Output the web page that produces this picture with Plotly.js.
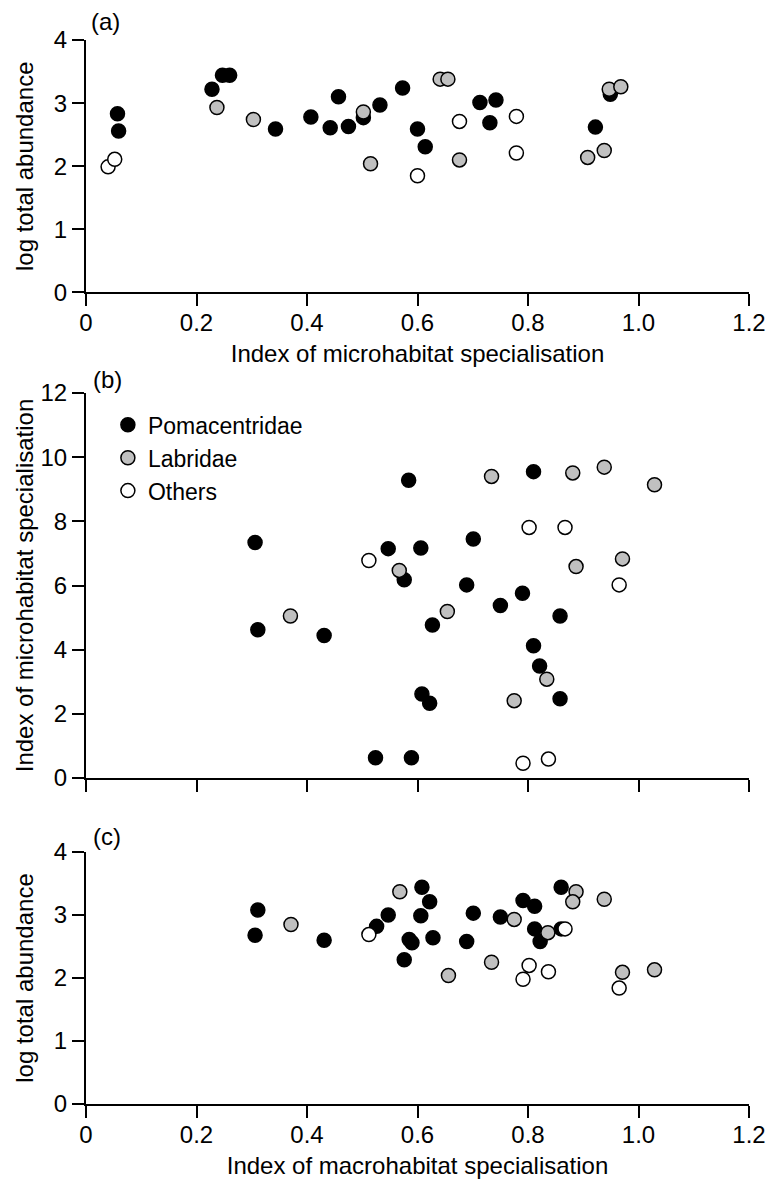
<!DOCTYPE html>
<html><head><meta charset="utf-8">
<script src="https://cdn.plot.ly/plotly-3.0.1.min.js"></script>
<style>html,body{margin:0;padding:0;background:#fff}#chart{width:767px;height:1182px}</style>
</head><body><div id="chart"></div>
<script>
// ---- Panel (a): index of microhabitat specialisation vs log total abundance
const aPomaX = [0.057,0.059,0.228,0.247,0.260,0.343,0.407,0.442,0.457,0.475,0.502,0.532,0.573,0.600,0.614,0.713,0.742,0.731,0.922,0.949];
const aPomaY = [2.83,2.56,3.22,3.44,3.44,2.59,2.78,2.61,3.10,2.63,2.77,2.97,3.24,2.59,2.31,3.01,3.05,2.69,2.62,3.14];
const aLabrX = [0.237,0.303,0.502,0.515,0.641,0.655,0.676,0.908,0.938,0.947,0.968];
const aLabrY = [2.93,2.74,2.86,2.04,3.38,3.38,2.10,2.14,2.25,3.22,3.26];
const aOthX  = [0.040,0.052,0.600,0.676,0.779,0.779];
const aOthY  = [1.99,2.11,1.85,2.71,2.79,2.21];

// ---- Panel (b): macrohabitat specialisation vs microhabitat specialisation
const bPomaX = [0.306,0.311,0.431,0.524,0.547,0.584,0.606,0.576,0.701,0.689,0.627,0.750,0.790,0.810,0.858,0.810,0.821,0.858,0.608,0.622,0.589];
const bPomaY = [7.34,4.62,4.44,0.63,7.15,9.28,7.17,6.18,7.45,6.02,4.77,5.38,5.76,9.55,5.05,4.12,3.49,2.47,2.62,2.33,0.63];
const bLabrX = [0.370,0.567,0.734,0.881,0.938,1.029,0.887,0.971,0.654,0.834,0.775];
const bLabrY = [5.05,6.47,9.40,9.51,9.69,9.14,6.59,6.83,5.19,3.08,2.41];
const bOthX  = [0.512,0.802,0.867,0.965,0.791,0.837];
const bOthY  = [6.78,7.81,7.81,6.02,0.46,0.59];

// ---- Panel (c): macrohabitat specialisation vs log total abundance
const cPomaX = [0.311,0.306,0.431,0.526,0.547,0.576,0.608,0.622,0.606,0.585,0.590,0.628,0.689,0.701,0.750,0.791,0.812,0.812,0.822,0.860,0.860];
const cPomaY = [3.08,2.68,2.60,2.82,3.00,2.29,3.44,3.21,2.99,2.61,2.56,2.64,2.58,3.03,2.97,3.23,3.14,2.78,2.58,3.44,2.78];
const cLabrX = [0.371,0.568,0.656,0.734,0.775,0.836,0.887,0.881,0.938,0.971,1.029];
const cLabrY = [2.85,3.37,2.04,2.25,2.93,2.72,3.37,3.21,3.25,2.09,2.13];
const cOthX  = [0.512,0.802,0.791,0.837,0.867,0.965];
const cOthY  = [2.69,2.20,1.98,2.10,2.78,1.84];

const groupNames = ['Pomacentridae','Labridae','Others'];
const groupFill  = ['#000000','#c0c0c0','#ffffff'];

const xTickVals = [0,0.2,0.4,0.6,0.8,1.0,1.2];
const xTickText = ['0','0.2','0.4','0.6','0.8','1.0','1.2'];
const yTickAbund = [0,1,2,3,4];
const yTickMicro = [0,2,4,6,8,10,12];

const xTitleMicro = 'Index of microhabitat specialisation';
const xTitleMacro = 'Index of macrohabitat specialisation';
const yTitleAbund = 'log total abundance';
const yTitleMicro = 'Index of microhabitat specialisation';

const FONT = 'Liberation Sans, Arial, Helvetica, sans-serif';

function tr(x, y, g, xa, ya, legend) {
  return {
    type: 'scatter', mode: 'markers', x: x, y: y,
    xaxis: xa, yaxis: ya, name: groupNames[g], showlegend: legend,
    cliponaxis: false,
    marker: {size: 14, color: groupFill[g], line: {color: '#000', width: 1.5}}
  };
}

const data = [
  tr(aPomaX, aPomaY, 0, 'x', 'y', false),
  tr(aLabrX, aLabrY, 1, 'x', 'y', false),
  tr(aOthX,  aOthY,  2, 'x', 'y', false),
  tr(bPomaX, bPomaY, 0, 'x2', 'y2', true),
  tr(bLabrX, bLabrY, 1, 'x2', 'y2', true),
  tr(bOthX,  bOthY,  2, 'x2', 'y2', true),
  tr(cPomaX, cPomaY, 0, 'x3', 'y3', false),
  tr(cLabrX, cLabrY, 1, 'x3', 'y3', false),
  tr(cOthX,  cOthY,  2, 'x3', 'y3', false)
];

function xax(anchor, title, showLabels) {
  const o = {
    domain: [0, 1], anchor: anchor, range: [0, 1.2],
    tickmode: 'array', tickvals: xTickVals, ticktext: xTickText,
    showticklabels: showLabels,
    ticks: 'outside', ticklen: 12, tickwidth: 2, tickcolor: '#000',
    ticklabelstandoff: -4,
    showline: true, linewidth: 2, linecolor: '#000',
    showgrid: false, zeroline: false,
    tickfont: {family: FONT, size: 24, color: '#000'}
  };
  if (title) o.title = {text: title, font: {family: FONT, size: 24, color: '#000'}, standoff: 10};
  return o;
}
function yax(anchor, dom, range, ticks, title, standoff) {
  return {
    domain: dom, anchor: anchor, range: range,
    tickmode: 'array', tickvals: ticks,
    ticks: 'outside', ticklen: 12, tickwidth: 2, tickcolor: '#000',
    showline: true, linewidth: 2, linecolor: '#000',
    showgrid: false, zeroline: false,
    tickfont: {family: FONT, size: 24, color: '#000'},
    title: {text: title, font: {family: FONT, size: 24, color: '#000'}, standoff: standoff}
  };
}

const layout = {
  width: 767, height: 1182,
  margin: {l: 86, r: 18, t: 40, b: 78},
  paper_bgcolor: '#fff', plot_bgcolor: '#fff',
  font: {family: FONT, size: 24, color: '#000'},
  xaxis: xax('y', xTitleMicro, true),
  yaxis: yax('x', [0.7627, 1], [0, 4], yTickAbund, yTitleAbund, 13),
  xaxis2: xax('y2', null, false),
  yaxis2: yax('x2', [0.3064, 0.6682], [0, 12], yTickMicro, yTitleMicro, 0),
  xaxis3: xax('y3', xTitleMacro, true),
  yaxis3: yax('x3', [0, 0.2368], [0, 4], yTickAbund, yTitleAbund, 13),
  showlegend: true,
  legend: {x: 0.033, y: 0.6585, xanchor: 'left', yanchor: 'top',
           bgcolor: 'rgba(0,0,0,0)', font: {family: FONT, size: 23, color: '#000'},
           tracegroupgap: 0},
  annotations: [
    {text: '(a)', xref: 'paper', yref: 'paper', x: 0.005, y: 1.017, xanchor: 'left', yanchor: 'middle', showarrow: false, font: {family: FONT, size: 24, color: '#000'}},
    {text: '(b)', xref: 'paper', yref: 'paper', x: 0.007, y: 0.6805, xanchor: 'left', yanchor: 'middle', showarrow: false, font: {family: FONT, size: 24, color: '#000'}},
    {text: '(c)', xref: 'paper', yref: 'paper', x: 0.008, y: 0.2512, xanchor: 'left', yanchor: 'middle', showarrow: false, font: {family: FONT, size: 24, color: '#000'}}
  ]
};

Plotly.newPlot('chart', data, layout, {staticPlot: true, displayModeBar: false});
</script>
</body></html>
